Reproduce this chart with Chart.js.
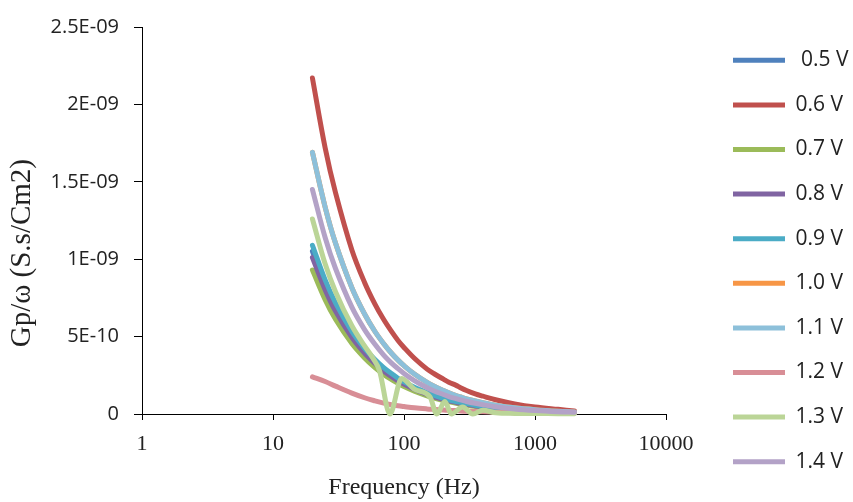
<!DOCTYPE html>
<html>
<head>
<meta charset="utf-8">
<script src="https://cdn.jsdelivr.net/npm/chart.js@4.4.1/dist/chart.umd.min.js"></script>
<style>
html,body{margin:0;padding:0;background:#ffffff;}
canvas{display:block;}
</style>
</head>
<body>
<canvas id="c" width="853" height="502"></canvas>
<script>
// Frequencies (Hz)
const freq   = [20,25,30,40,50,60,70,80,90,100,120,150,170,200,220,250,270,300,350,400,500,700,1000,1500,2000];
const freq13 = [20,25,30,40,50,58,65,78,96,120,158,178,205,230,280,335,400,500,700,1000,1500,2000];

const seriesLabels = [' 0.5 V','0.6 V','0.7 V','0.8 V','0.9 V','1.0 V','1.1 V','1.2 V','1.3 V','1.4 V'];

// Gp/ω values in units of 1E-09 S.s/cm2
const gp05 = [1.05,0.835,0.692,0.514,0.408,0.339,0.289,0.252,0.223,0.200,0.166,0.132,0.116,0.098,0.089,0.078,0.072,0.065,0.055,0.048,0.038,0.027,0.019,0.012,0.009];
const gp06 = [2.17,1.72,1.43,1.06,0.85,0.71,0.61,0.535,0.475,0.43,0.36,0.29,0.26,0.225,0.205,0.185,0.17,0.152,0.13,0.115,0.092,0.065,0.045,0.03,0.02];
const gp07 = [0.93,0.739,0.612,0.455,0.362,0.300,0.256,0.223,0.198,0.177,0.147,0.117,0.103,0.087,0.079,0.069,0.064,0.057,0.049,0.043,0.034,0.024,0.017,0.011,0.008];
const gp08 = [1.01,0.803,0.665,0.495,0.393,0.326,0.278,0.242,0.214,0.193,0.160,0.127,0.111,0.094,0.085,0.075,0.069,0.062,0.053,0.046,0.037,0.026,0.018,0.012,0.009];
const gp09 = [1.09,0.866,0.718,0.534,0.424,0.352,0.300,0.262,0.231,0.208,0.172,0.137,0.120,0.102,0.092,0.081,0.075,0.067,0.057,0.050,0.040,0.028,0.019,0.013,0.009];
const gp10 = [1.69,1.337,1.104,0.816,0.646,0.533,0.454,0.394,0.348,0.312,0.258,0.204,0.179,0.151,0.136,0.119,0.110,0.098,0.084,0.073,0.057,0.040,0.028,0.018,0.013];
const gp11 = [1.69,1.337,1.104,0.816,0.646,0.533,0.454,0.394,0.348,0.312,0.258,0.204,0.179,0.151,0.136,0.119,0.110,0.098,0.084,0.073,0.057,0.040,0.028,0.018,0.013];
const gp12 = [0.24,0.21,0.18,0.135,0.105,0.085,0.07,0.06,0.053,0.048,0.04,0.033,0.03,0.026,0.024,0.022,0.02,0.018,0.016,0.014,0.011,0.008,0.006,0.004,0.003];
const gp13 = [1.26,0.97,0.79,0.57,0.44,0.36,0.28,0.0,0.23,0.16,0.11,0.0,0.08,0.0,0.045,0.0,0.025,0.008,0.004,0.003,0.002,0.001];
const gp14 = [1.45,1.14,0.94,0.69,0.545,0.45,0.38,0.33,0.293,0.262,0.216,0.17,0.149,0.126,0.113,0.099,0.091,0.081,0.069,0.06,0.047,0.033,0.023,0.015,0.011];

const yTicks = [0,0.5,1,1.5,2,2.5];
const yTickLabels = ['0','5E-10','1E-09','1.5E-09','2E-09','2.5E-09'];
const xTicks = [1,10,100,1000,10000];
const xTickLabels = ['1','10','100','1000','10000'];

const colors = ['#4F81BD','#C0504D','#9BBB59','#8064A2','#4BACC6','#F79646','#8DC0DA','#D88E96','#BBD597','#B3A2C7'];

const series = [gp05,gp06,gp07,gp08,gp09,gp10,gp11,gp12,gp13,gp14];
const datasets = series.map((vals,i)=>{
  const xs = (i===8) ? freq13 : freq;
  const ds = {
    label: seriesLabels[i],
    data: vals.map((v,k)=>({x: xs[k], y: v})),
    borderColor: colors[i],
    backgroundColor: colors[i],
    borderWidth: 5,
    pointRadius: 0,
    borderCapStyle: 'round',
    borderJoinStyle: 'round',
    clip: false,
    order: 10 - i
  };
  if (i === 8) { ds.cubicInterpolationMode = 'monotone'; } else { ds.tension = 0.35; }
  return ds;
});

const CHART_RIGHT = 666;
const LEGEND_LINE_X = 733;

const legendPlacer = {
  id: 'legendPlacer',
  beforeLayout(chart){
    const lg = chart.legend;
    if (lg && !lg.__patched){
      const f = lg.fit;
      lg.fit = function(){ f.call(this); this.width = chart.width - CHART_RIGHT; };
      lg.__patched = true;
    }
  },
  afterLayout(chart){
    const lg = chart.legend;
    if (!lg) return;
    const dx = LEGEND_LINE_X - lg.options.labels.padding - lg.left;
    lg.left += dx; lg.right += dx;
  }
};

new Chart(document.getElementById('c'), {
  type: 'line',
  data: { datasets },
  plugins: [legendPlacer],
  options: {
    responsive: false,
    animation: false,
    devicePixelRatio: 1,
    layout: { padding: { top: 20, left: 0, right: 0, bottom: 0 } },
    plugins: {
      legend: {
        position: 'right',
        align: 'center',
        labels: {
          usePointStyle: true,
          pointStyle: 'line',
          pointStyleWidth: 52,
          padding: 23.6,
          color: '#222',
          font: { family: 'Open Sans', size: 21 },
          sort: (a,b) => a.datasetIndex - b.datasetIndex
        }
      },
      tooltip: { enabled: false }
    },
    scales: {
      x: {
        type: 'logarithmic',
        min: 1, max: 10000,
        afterFit: s => { s.height = 88; },
        afterBuildTicks: s => { s.ticks = xTicks.map(v => ({ value: v })); },
        ticks: {
          callback: (v,i) => xTickLabels[i],
          font: { family: 'Liberation Serif', size: 22 },
          color: '#222', padding: 11, maxRotation: 0, autoSkip: false
        },
        grid: { display: true, drawOnChartArea: false, drawTicks: true, tickLength: 6, color: '#000' },
        border: { display: true, color: '#000', width: 1 },
        title: { display: true, text: 'Frequency (Hz)', font: { family: 'Liberation Serif', size: 24 }, color: '#222', padding: 0 }
      },
      y: {
        min: 0, max: 2.5,
        afterFit: s => { s.width = 142; },
        afterBuildTicks: s => { s.ticks = yTicks.map(v => ({ value: v })); },
        ticks: {
          callback: (v,i) => yTickLabels[i],
          font: { family: 'Open Sans', size: 20 },
          color: '#222', padding: 15, autoSkip: false
        },
        grid: { display: true, drawOnChartArea: false, drawTicks: true, tickLength: 8, color: '#000' },
        border: { display: true, color: '#000', width: 1 },
        title: { display: true, text: 'Gp/ω (S.s/Cm2)' + '\u00A0'.repeat(9), font: { family: 'Liberation Serif', size: 29 }, color: '#222', padding: { top: 5, bottom: 0 } }
      }
    }
  }
});
</script>
</body>
</html>
